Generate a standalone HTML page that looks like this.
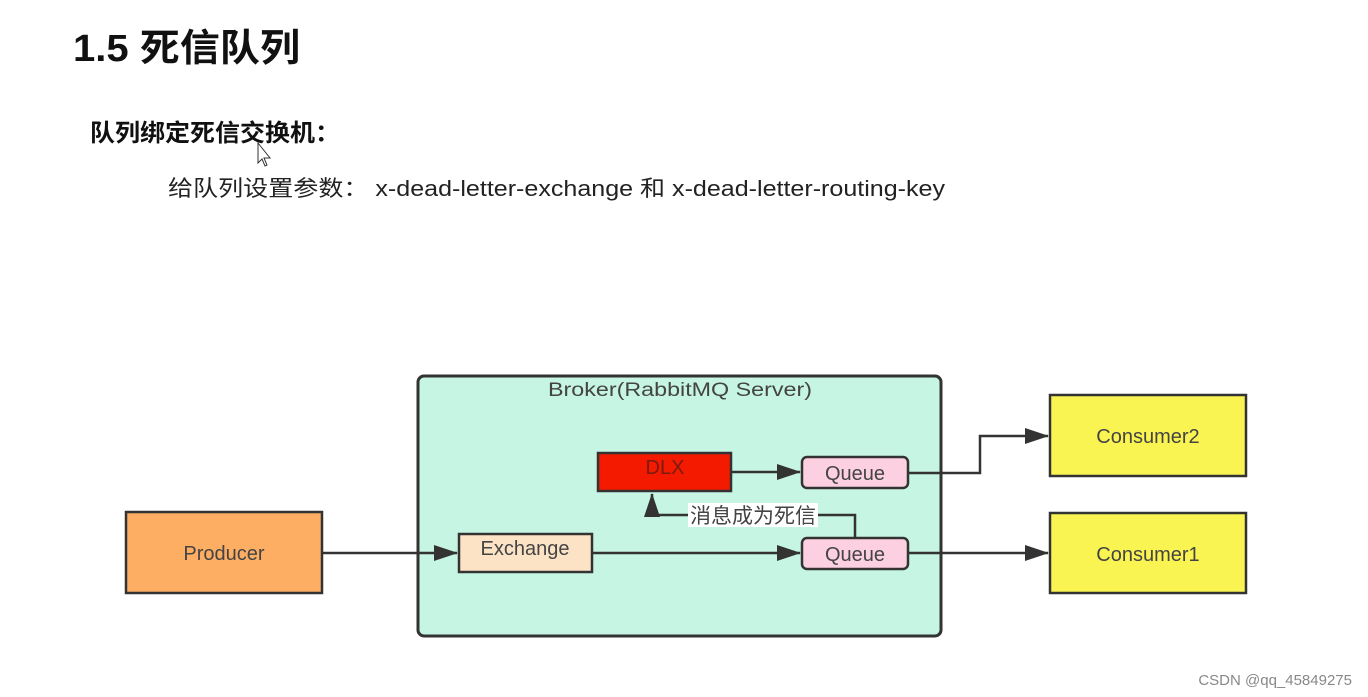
<!DOCTYPE html>
<html><head><meta charset="utf-8"><style>
html,body{margin:0;padding:0;background:#fff;width:1368px;height:697px;overflow:hidden}
svg{display:block}
text{font-family:"Liberation Sans","Noto Sans CJK SC",sans-serif}
</style></head><body>
<svg width="1368" height="697" viewBox="0 0 1368 697">
<defs>
<marker id="b" viewBox="0 0 24 16" refX="23" refY="8" markerWidth="24" markerHeight="16" orient="auto" markerUnits="userSpaceOnUse"><path d="M0,0 L24,8 L0,16z" fill="#333"/></marker></defs>
<text x="73" y="61" font-size="38" font-weight="bold" fill="#111" textLength="227" lengthAdjust="spacingAndGlyphs">1.5 死信队列</text>
<text x="90" y="141" font-size="24" font-weight="bold" fill="#111" textLength="250" lengthAdjust="spacingAndGlyphs">队列绑定死信交换机：</text>
<text x="168" y="196" font-size="22" fill="#222" textLength="777" lengthAdjust="spacingAndGlyphs">给队列设置参数： x-dead-letter-exchange 和 x-dead-letter-routing-key</text>
<rect x="418" y="376" width="523" height="260" rx="6" fill="#c6f5e3" stroke="#333" stroke-width="3"/>
<text x="680" y="396" font-size="19" fill="#444" text-anchor="middle" textLength="264" lengthAdjust="spacingAndGlyphs">Broker(RabbitMQ Server)</text>
<rect x="126" y="512" width="196" height="81" fill="#fdae63" stroke="#333" stroke-width="2.5"/>
<text x="224" y="560" font-size="20" fill="#444" text-anchor="middle">Producer</text>
<rect x="459" y="534" width="133" height="38" fill="#fde3c6" stroke="#333" stroke-width="2.5"/>
<text x="525" y="555" font-size="20" fill="#444" text-anchor="middle">Exchange</text>
<rect x="598" y="453" width="133" height="38" fill="#f41a00" stroke="#333" stroke-width="2.5"/>
<text x="665" y="474" font-size="20" fill="#7a1a10" text-anchor="middle">DLX</text>
<rect x="802" y="457" width="106" height="31" rx="5" fill="#fcd0e0" stroke="#333" stroke-width="2.5"/>
<text x="855" y="480" font-size="20" fill="#444" text-anchor="middle">Queue</text>
<rect x="802" y="538" width="106" height="31" rx="5" fill="#fcd0e0" stroke="#333" stroke-width="2.5"/>
<text x="855" y="561" font-size="20" fill="#444" text-anchor="middle">Queue</text>
<rect x="1050" y="395" width="196" height="81" fill="#faf453" stroke="#333" stroke-width="2.5"/>
<text x="1148" y="443" font-size="20" fill="#444" text-anchor="middle">Consumer2</text>
<rect x="1050" y="513" width="196" height="80" fill="#faf453" stroke="#333" stroke-width="2.5"/>
<text x="1148" y="561" font-size="20" fill="#444" text-anchor="middle">Consumer1</text>
<g stroke="#333" stroke-width="2.5" fill="none">
<path d="M322,553 H457" marker-end="url(#b)"/>
<path d="M592,553 H800" marker-end="url(#b)"/>
<path d="M731,472 H800" marker-end="url(#b)"/>
<path d="M908,473 H980 V436 H1048" marker-end="url(#b)"/>
<path d="M908,553 H1048" marker-end="url(#b)"/>
<path d="M855,538 V515 H652 V494" marker-end="url(#b)"/>
</g>
<rect x="688" y="503" width="130" height="24" fill="#fff"/>
<text x="753" y="523" font-size="21" fill="#444" text-anchor="middle">消息成为死信</text>
<path d="M258,143 v20 l4,-4 l3,7 l2,-1 l-3,-7 l6,0z" fill="#fff" stroke="#333" stroke-width="1"/>
<text x="1352" y="685" font-size="15" fill="#888" text-anchor="end">CSDN @qq_45849275</text>
</svg>
</body></html>
